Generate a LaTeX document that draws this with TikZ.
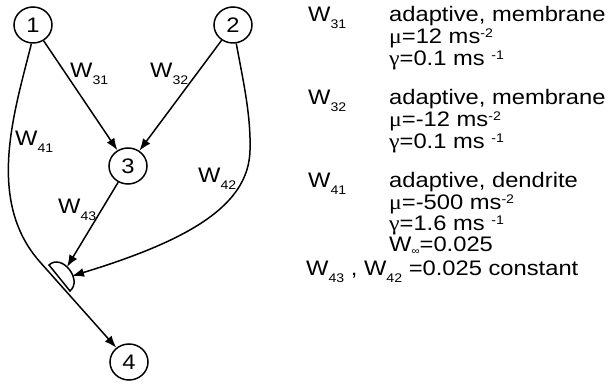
\documentclass[tikz,border=0pt]{standalone}
\usepackage{fontspec}
\setmainfont{Liberation Sans}
\newfontfamily\grkfont{Liberation Serif}
\usetikzlibrary{arrows.meta,shapes.geometric}

% slightly widened lettering
\newcommand\hs[1]{\scalebox{1.13}[1]{#1}}
\newcommand\subsc[1]{\raisebox{-0.3em}{\fontsize{12.5}{12.5}\selectfont #1}}
\newcommand\supsc[1]{\raisebox{0.33em}{\fontsize{12.5}{12.5}\selectfont #1}}
\newcommand\infsub{\raisebox{-0.12em}{\fontsize{10}{10}\selectfont ∞}}
\newcommand\mug{{\grkfont μ}}
\newcommand\gam{{\grkfont γ}}

\begin{document}
\begin{tikzpicture}[x=1pt,y=-1pt,
  font=\fontsize{21}{24}\selectfont,
  neuron/.style={draw, ellipse, line width=1.5pt, minimum width=38pt,
                 minimum height=36pt, inner sep=0pt},
  link/.style={line width=1.5pt, -{Latex[length=12pt,width=9pt]}},
  plain/.style={line width=1.5pt},
  txt/.style={anchor=base west, inner sep=0pt}]
\useasboundingbox (0,0) rectangle (613,387);

% neurons
\node[neuron] (n1) at (33,25)   {\hs{1}};
\node[neuron] (n2) at (233,25)  {\hs{2}};
\node[neuron] (n3) at (128,166) {\hs{3}};
\node[neuron] (n4) at (129,362) {\hs{4}};

% synapse on the dendrite of neuron 4
\draw[plain, fill=white] (49,265) .. controls (62,253) and (83,280) .. (70,291) -- cycle;
\coordinate (syn3) at (67,267);
\coordinate (syn2) at (72,276);

% connections
\draw[link] (n1) -- (n3);
\draw[link] (n2) -- (n3);
\draw[link] (n3) -- (syn3);
\draw[link] (n1.265) .. controls (15,110) and (-15,200) .. (40,262) -- (n4);
\draw[link] (n2.280) .. controls (243,80) and (251,115) .. (250,150)
            .. controls (249,205) and (190,240) .. (syn2);

% weight labels
\node[txt] (l31) at (70,78)  {\hs{W\subsc{31}}};
\node[txt] (l32) at (150,78) {\hs{W\subsc{32}}};
\node[txt] (l41) at (15,146) {\hs{W\subsc{41}}};
\node[txt] (l42) at (198,183){\hs{W\subsc{42}}};
\node[txt] (l43) at (58,214) {\hs{W\subsc{43}}};

% parameter list
\node[txt] (k31) at (308,22)  {\hs{W\subsc{31}}};
\node[txt] (a1)  at (389,22)  {\hs{adaptive, membrane}};
\node[txt] (a2)  at (389,44)  {\hs{\mug=12 ms\supsc{-2}}};
\node[txt] (a3)  at (389,66)  {\hs{\gam=0.1 ms \supsc{-1}}};
\node[txt] (k32) at (308,105) {\hs{W\subsc{32}}};
\node[txt] (b1)  at (389,105) {\hs{adaptive, membrane}};
\node[txt] (b2)  at (389,127) {\hs{\mug=-12 ms\supsc{-2}}};
\node[txt] (b3)  at (389,149) {\hs{\gam=0.1 ms \supsc{-1}}};
\node[txt] (k41) at (308,188) {\hs{W\subsc{41}}};
\node[txt] (c1)  at (389,188) {\hs{adaptive, dendrite}};
\node[txt] (c2)  at (389,210) {\hs{\mug=-500 ms\supsc{-2}}};
\node[txt] (c3)  at (389,231) {\hs{\gam=1.6 ms \supsc{-1}}};
\node[txt] (c4)  at (389,252) {\hs{W\infsub=0.025}};
\node[txt] (d1)  at (306,276) {\hs{W\subsc{43} , W\subsc{42} =0.025 constant}};
\end{tikzpicture}
\end{document}
